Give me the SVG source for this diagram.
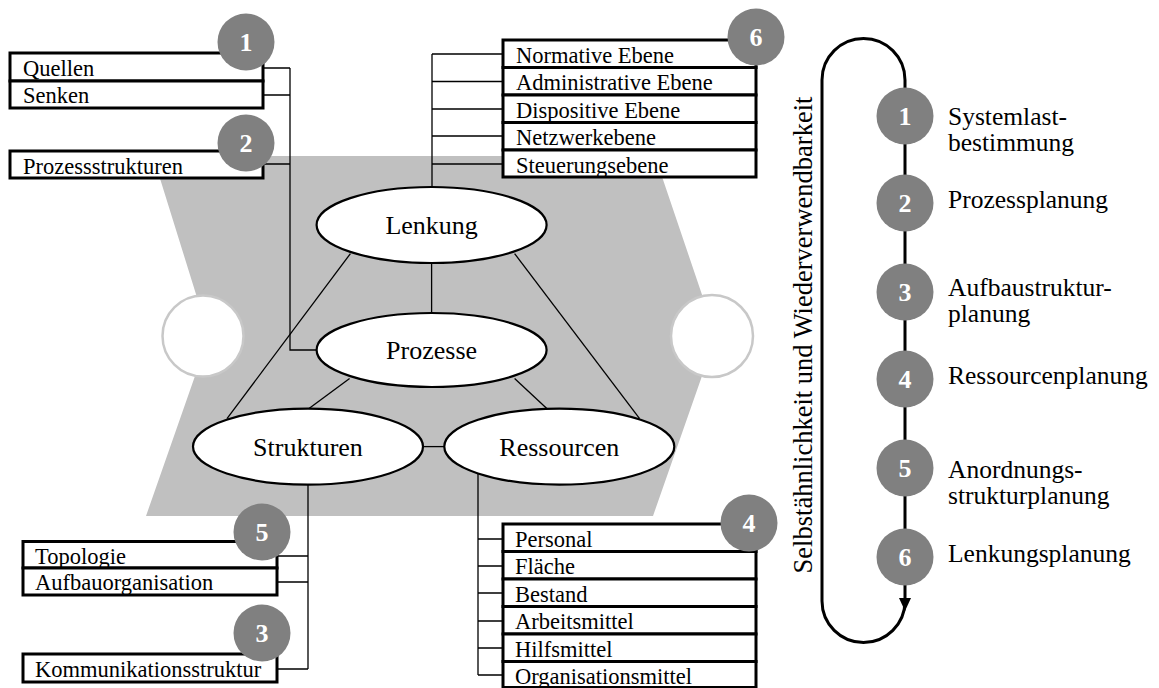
<svg xmlns="http://www.w3.org/2000/svg" width="1159" height="688" viewBox="0 0 1159 688">
  <style>
    .t { font-family: "Liberation Serif", "Times New Roman", serif; fill: #000; }
    .box { font-size: 22.5px; }
    .big { font-size: 26px; }
    .lbl { font-size: 25.5px; }
    .row { fill: #fff; stroke: #000; stroke-width: 3; }
    .ell { fill: #fff; stroke: #000; stroke-width: 2.2; }
    .con { fill: none; stroke: #000; stroke-width: 1.3; }
    .num { fill: #808080; }
    .numt { font-family: "Liberation Serif", "Times New Roman", serif; font-size: 26px; font-weight: bold; fill: #fff; text-anchor: middle; }
    .side { fill: #fff; stroke: #c8c8c8; stroke-width: 2.5; }
  </style>

  <!-- background band -->
  <polygon points="153,156 655,156 716,336 653,516 146,516 209,336" fill="#c0c0c0"/>
  <circle class="side" cx="203" cy="336" r="40.5"/>
  <circle class="side" cx="712" cy="336" r="41"/>

  <!-- connectors -->
  <g id="connectors" class="con">
    <path d="M263,68 H290 M263,95 H290 M263,164 H290 M290,68 V350 H317"/>
    <path d="M432,54 V188 M432,54 H503 M432,81.5 H503 M432,109 H503 M432,136 H503 M432,164 H503"/>
    <path d="M308,485 V669 M277,556 H308 M277,582 H308 M277,669 H308"/>
    <path d="M478,473.5 V675 M478,539 H503 M478,566 H503 M478,593 H503 M478,621 H503 M478,648 H503 M478,675 H503"/>
    <path d="M431.6,263 V313"/>
    <path d="M350.4,253.6 L227,418.6"/>
    <path d="M514.6,253.6 L639.6,418.6"/>
    <path d="M349.6,378.6 L309,408.5"/>
    <path d="M514.6,378.6 L546.8,408.5"/>
    <path d="M423,446.6 H444"/>
  </g>

  <!-- core elements -->
  <g id="lenkung">
    <ellipse class="ell" cx="431.6" cy="225" rx="115" ry="38"/>
    <text class="t big" x="431.6" y="234" text-anchor="middle">Lenkung</text>
  </g>
  <g id="prozesse">
    <ellipse class="ell" cx="431.6" cy="350" rx="115" ry="37"/>
    <text class="t big" x="431.6" y="359" text-anchor="middle">Prozesse</text>
  </g>
  <g id="strukturen">
    <ellipse class="ell" cx="308" cy="446.6" rx="115" ry="38"/>
    <text class="t big" x="308" y="455.6" text-anchor="middle">Strukturen</text>
  </g>
  <g id="ressourcen">
    <ellipse class="ell" cx="559.3" cy="446.6" rx="115" ry="38"/>
    <text class="t big" x="559.3" y="455.6" text-anchor="middle">Ressourcen</text>
  </g>

  <!-- 1: sources and sinks -->
  <g id="box-1">
    <rect class="row" x="10" y="53" width="253" height="28"/>
    <rect class="row" x="10" y="81" width="253" height="27"/>
    <text class="t box" x="23" y="75.5">Quellen</text>
    <text class="t box" x="23" y="103">Senken</text>
    <circle class="num" cx="246" cy="42" r="28.5"/>
    <text class="numt" x="246" y="51">1</text>
  </g>

  <!-- 2: process structures -->
  <g id="box-2">
    <rect class="row" x="10" y="151" width="253" height="27"/>
    <text class="t box" x="23" y="173.5">Prozessstrukturen</text>
    <circle class="num" cx="246" cy="143" r="28.5"/>
    <text class="numt" x="246" y="152">2</text>
  </g>

  <!-- 6: control levels -->
  <g id="box-6">
    <rect class="row" x="503" y="40" width="253" height="27.5"/>
    <rect class="row" x="503" y="67.5" width="253" height="27.5"/>
    <rect class="row" x="503" y="95" width="253" height="27.5"/>
    <rect class="row" x="503" y="122.5" width="253" height="27.5"/>
    <rect class="row" x="503" y="150" width="253" height="27"/>
    <text class="t box" x="516" y="62.5">Normative Ebene</text>
    <text class="t box" x="516" y="90">Administrative Ebene</text>
    <text class="t box" x="516" y="117.5">Dispositive Ebene</text>
    <text class="t box" x="516" y="145">Netzwerkebene</text>
    <text class="t box" x="516" y="172.5">Steuerungsebene</text>
    <circle class="num" cx="756" cy="37" r="28.5"/>
    <text class="numt" x="756" y="46">6</text>
  </g>

  <!-- 5: layout -->
  <g id="box-5">
    <rect class="row" x="23" y="541.5" width="254" height="26.5"/>
    <rect class="row" x="23" y="568" width="254" height="27"/>
    <text class="t box" x="35" y="563.5">Topologie</text>
    <text class="t box" x="35" y="590">Aufbauorganisation</text>
    <circle class="num" cx="262" cy="532" r="28.5"/>
    <text class="numt" x="262" y="541">5</text>
  </g>

  <!-- 3: communication structure -->
  <g id="box-3">
    <rect class="row" x="23" y="654" width="254" height="28"/>
    <text class="t box" x="35" y="677">Kommunikationsstruktur</text>
    <circle class="num" cx="262" cy="633" r="28.5"/>
    <text class="numt" x="262" y="642">3</text>
  </g>

  <!-- 4: resources -->
  <g id="box-4">
    <rect class="row" x="503" y="524" width="253" height="27.5"/>
    <rect class="row" x="503" y="551.5" width="253" height="27.5"/>
    <rect class="row" x="503" y="579" width="253" height="27.5"/>
    <rect class="row" x="503" y="606.5" width="253" height="27.5"/>
    <rect class="row" x="503" y="634" width="253" height="27.5"/>
    <rect class="row" x="503" y="661.5" width="253" height="26"/>
    <text class="t box" x="515" y="546.5">Personal</text>
    <text class="t box" x="515" y="574">Fläche</text>
    <text class="t box" x="515" y="601.5">Bestand</text>
    <text class="t box" x="515" y="629">Arbeitsmittel</text>
    <text class="t box" x="515" y="656.5">Hilfsmittel</text>
    <text class="t box" x="515" y="684">Organisationsmittel</text>
    <circle class="num" cx="749" cy="523" r="28.5"/>
    <text class="numt" x="749" y="532">4</text>
  </g>

  <!-- planning cycle -->
  <g id="cycle">
    <path d="M905,80 A41.5,41.5 0 0 0 822,80 L822,601 A41.5,41.5 0 0 0 905,601 Z" fill="none" stroke="#000" stroke-width="3"/>
    <polygon points="899,598 911,598 905,611" fill="#000"/>
    <text class="t" font-size="26.5" transform="translate(812,335) rotate(-90)" text-anchor="middle">Selbstähnlichkeit und Wiederverwendbarkeit</text>
  </g>
  <g id="step-1">
    <circle class="num" cx="905" cy="116" r="28.5"/>
    <text class="numt" x="905" y="125">1</text>
    <text class="t lbl" x="948" y="125">Systemlast-</text>
    <text class="t lbl" x="948" y="151">bestimmung</text>
  </g>
  <g id="step-2">
    <circle class="num" cx="905" cy="203" r="28.5"/>
    <text class="numt" x="905" y="212">2</text>
    <text class="t lbl" x="948" y="208">Prozessplanung</text>
  </g>
  <g id="step-3">
    <circle class="num" cx="905" cy="292" r="28.5"/>
    <text class="numt" x="905" y="301">3</text>
    <text class="t lbl" x="948" y="296">Aufbaustruktur-</text>
    <text class="t lbl" x="948" y="322">planung</text>
  </g>
  <g id="step-4">
    <circle class="num" cx="905" cy="379" r="28.5"/>
    <text class="numt" x="905" y="388">4</text>
    <text class="t lbl" x="948" y="384">Ressourcenplanung</text>
  </g>
  <g id="step-5">
    <circle class="num" cx="905" cy="468" r="28.5"/>
    <text class="numt" x="905" y="477">5</text>
    <text class="t lbl" x="948" y="478">Anordnungs-</text>
    <text class="t lbl" x="948" y="504">strukturplanung</text>
  </g>
  <g id="step-6">
    <circle class="num" cx="905" cy="557" r="28.5"/>
    <text class="numt" x="905" y="566">6</text>
    <text class="t lbl" x="948" y="562">Lenkungsplanung</text>
  </g>
</svg>
